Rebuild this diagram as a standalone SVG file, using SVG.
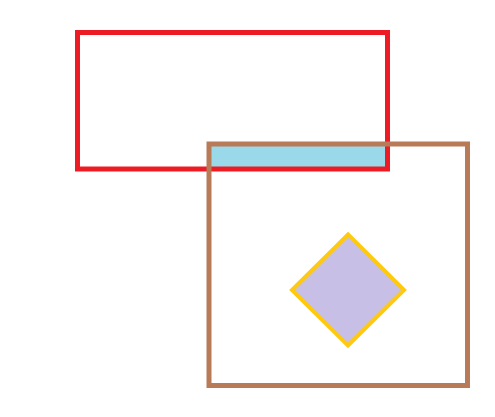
<svg xmlns="http://www.w3.org/2000/svg" width="495" height="417" viewBox="0 0 495 417">
<style>
.r{fill:none;stroke-width:5}
</style>
<rect width="495" height="417" fill="#fff"/>
<g id="overlap"><rect x="209" y="144" width="178.5" height="25" fill="#99D9EA"/></g>
<g id="red-rect"><rect class="r" x="77.5" y="32.5" width="310" height="136.5" stroke="#ED1C24"/></g>
<g id="brown-rect"><rect class="r" x="209" y="144" width="258.5" height="241.5" stroke="#B97A57"/></g>
<g id="diamond"><polygon points="348,234.5 404,290 348,345.5 292,290" fill="#C8BFE7" stroke="#FFC90E" stroke-width="4"/></g>
<g id="connectors"/>
</svg>
